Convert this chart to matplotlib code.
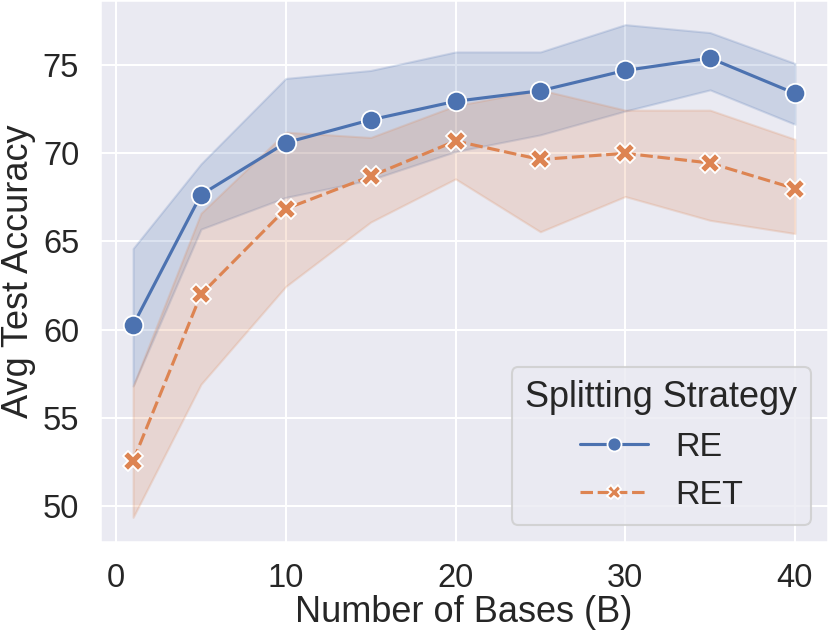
import numpy as np
import matplotlib
matplotlib.use("Agg")
import matplotlib.pyplot as plt
import seaborn as sns

# number of bases on the x axis
bases = [1, 5, 10, 15, 20, 25, 30, 35, 40]

# RE: mean and band
re_mean = [60.25, 67.65, 70.6, 71.9, 72.95, 73.55, 74.7, 75.4, 73.4]
re_low = [56.8, 65.7, 67.5, 68.5, 70.1, 71.05, 72.4, 73.6, 71.65]
re_high = [64.6, 69.4, 74.25, 74.7, 75.75, 75.75, 77.3, 76.85, 75.1]

# RET: mean and band
ret_mean = [52.55, 62.0, 66.85, 68.7, 70.7, 69.65, 70.0, 69.45, 68.0]
ret_low = [49.35, 56.9, 62.45, 66.1, 68.55, 65.55, 67.55, 66.2, 65.45]
ret_high = [56.8, 66.6, 71.2, 70.9, 72.7, 73.6, 72.45, 72.45, 70.8]

sns.set_theme(context="talk", style="darkgrid")
plt.rcParams["font.family"] = ["Liberation Sans", "DejaVu Sans"]

fs_tick = 23.5
fs_lab = 26
fig = plt.figure(figsize=(8.3, 6.37), dpi=100)
ax = fig.add_axes([100 / 830, 95 / 637, 728 / 830, 542 / 637])

c0, c1 = sns.color_palette("deep")[:2]

ax.fill_between(bases, re_low, re_high, color=c0, alpha=0.2)
ax.fill_between(bases, ret_low, ret_high, color=c1, alpha=0.2)
ax.plot(bases, re_mean, color=c0, lw=2.25, marker="o", ms=14,
        mec="white", mew=1.3, label="RE")
ax.plot(bases, ret_mean, color=c1, lw=2.25, marker="X", ms=14,
        mec="white", mew=1.3, dashes=(4, 1.5), label="RET")

ax.set_xticks([0, 10, 20, 30, 40])
ax.set_yticks([50, 55, 60, 65, 70, 75])
ax.tick_params(labelsize=fs_tick, pad=6)
ax.set_xlabel("Number of Bases (B)", fontsize=fs_lab, labelpad=1)
ax.set_ylabel("Avg Test Accuracy", fontsize=fs_lab, labelpad=5)

leg = ax.legend(title="Splitting Strategy", loc="lower right",
                fontsize=24.5, title_fontsize=fs_lab, markerscale=0.72)

fig.savefig("out.png", dpi=100)
